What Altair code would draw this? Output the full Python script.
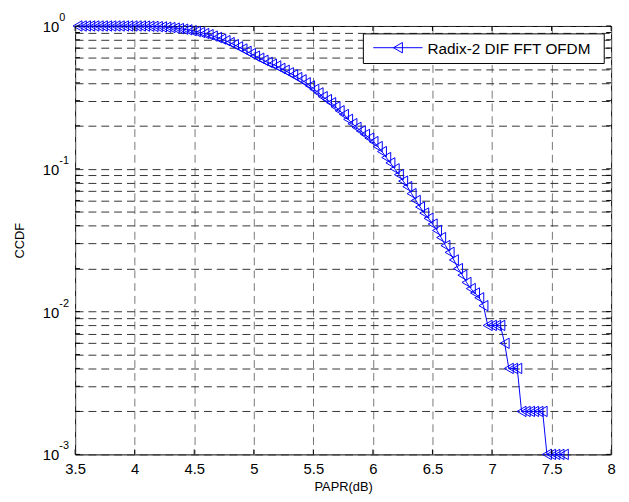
import altair as alt
import pandas as pd

# ---- data ----
papr_db = [3.520, 3.556, 3.591, 3.627, 3.662, 3.698, 3.733, 3.769, 3.804, 3.840,
           3.875, 3.911, 3.946, 3.982, 4.017, 4.053, 4.088, 4.124, 4.159, 4.195,
           4.230, 4.266, 4.301, 4.337, 4.372, 4.408, 4.443, 4.479, 4.514, 4.550,
           4.585, 4.621, 4.656, 4.692, 4.727, 4.763, 4.798, 4.834, 4.869, 4.905,
           4.940, 4.976, 5.011, 5.047, 5.082, 5.118, 5.153, 5.189, 5.224, 5.260,
           5.295, 5.331, 5.366, 5.402, 5.437, 5.473, 5.508, 5.544, 5.579, 5.615,
           5.650, 5.686, 5.721, 5.757, 5.792, 5.828, 5.863, 5.899, 5.934, 5.970,
           6.005, 6.041, 6.076, 6.112, 6.147, 6.183, 6.218, 6.254, 6.289, 6.325,
           6.360, 6.396, 6.431, 6.467, 6.502, 6.538, 6.573, 6.609, 6.644, 6.680,
           6.715, 6.751, 6.786, 6.822, 6.857, 6.893, 6.928, 6.964, 6.999, 7.035,
           7.070, 7.106, 7.141, 7.177, 7.212, 7.248, 7.283, 7.319, 7.354, 7.390,
           7.425, 7.461, 7.496, 7.532, 7.567, 7.603]

ccdf = [1.0, 1.0, 1.0, 1.0, 1.0, 1.0, 1.0, 1.0, 1.0, 1.0,
        1.0, 1.0, 1.0, 1.0, 1.0, 1.0, 0.998, 0.996, 0.993, 0.99,
        0.985, 0.98, 0.975, 0.967, 0.96, 0.95, 0.94, 0.927, 0.915, 0.90,
        0.885, 0.87, 0.85, 0.83, 0.81, 0.79, 0.765, 0.74, 0.715, 0.69,
        0.665, 0.64, 0.615, 0.595, 0.575, 0.555, 0.54, 0.525, 0.505, 0.49,
        0.47, 0.455, 0.435, 0.42, 0.40, 0.38, 0.36, 0.34, 0.32, 0.305,
        0.29, 0.272, 0.255, 0.24, 0.222, 0.207, 0.195, 0.184, 0.174, 0.164,
        0.155, 0.143, 0.132, 0.12, 0.11, 0.10, 0.091, 0.082, 0.075, 0.067,
        0.06, 0.054, 0.049, 0.045, 0.041, 0.037, 0.033, 0.029, 0.026, 0.023,
        0.020, 0.018, 0.016, 0.0145, 0.0135, 0.0125, 0.011, 0.008, 0.008, 0.008,
        0.008, 0.006, 0.004, 0.004, 0.004, 0.002, 0.002, 0.002, 0.002, 0.002,
        0.002, 0.001, 0.001, 0.001, 0.001, 0.001]

x_tick_values = [3.5, 4.0, 4.5, 5.0, 5.5, 6.0, 6.5, 7.0, 7.5, 8.0]
y_grid_values = [0.001, 0.002, 0.003, 0.004, 0.005, 0.006, 0.007, 0.008, 0.009,
                 0.01, 0.02, 0.03, 0.04, 0.05, 0.06, 0.07, 0.08, 0.09,
                 0.1, 0.2, 0.3, 0.4, 0.5, 0.6, 0.7, 0.8, 0.9, 1.0]
y_decades = [1.0, 0.1, 0.01, 0.001]
y_exponents = ["0", "-1", "-2", "-3"]
series_name = "Radix-2 DIF FFT OFDM"

# ---- layout (plot area in px) ----
W, H = 543, 434
FONT = "Liberation Sans"
BLUE = "#0000ff"
MSIZE = 110

df = pd.DataFrame({"x": papr_db, "y": ccdf})
xt = pd.DataFrame({"x": x_tick_values})
yt = pd.DataFrame({"y": y_grid_values})
yd = pd.DataFrame({"y": y_decades, "e": y_exponents})
leg = pd.DataFrame({"label": [series_name]})

xs = alt.Scale(domain=[3.5, 8], nice=False, zero=False)
ys = alt.Scale(type="log", domain=[0.001, 1], nice=False)

x_axis = alt.Axis(values=x_tick_values, format="~g", grid=True, gridDash=[8, 5],
                  gridColor="#777777", gridWidth=1, ticks=False, tickSize=0,
                  domain=False, labelFont=FONT, labelFontSize=15, labelColor="black",
                  labelPadding=7, labelFlush=False, labelOverlap=False,
                  title="PAPR(dB)", titleFont=FONT, titleFontSize=13,
                  titleFontWeight="normal", titleColor="black", titleY=33,
                  titleBaseline="middle")
y_axis = alt.Axis(values=y_grid_values, grid=True, gridDash=[8, 5],
                  gridColor="#333333", gridWidth=1, ticks=False, tickSize=0,
                  domain=False, labels=False, title="CCDF", titleFont=FONT,
                  titleFontSize=13, titleFontWeight="normal", titleColor="black",
                  titleX=-56, titleY=H / 2, titleAngle=270, titleBaseline="middle",
                  titleAlign="center")


def X(field="x:Q"):
    return alt.X(field, scale=xs, axis=x_axis)


def Y(field="y:Q"):
    return alt.Y(field, scale=ys, axis=y_axis)


line = alt.Chart(df).mark_line(color=BLUE, strokeWidth=1).encode(x=X(), y=Y())
pts = alt.Chart(df).mark_point(shape="triangle-left", filled=False, size=MSIZE,
                               color=BLUE, strokeWidth=1, opacity=1).encode(x=X(), y=Y())

# inward ticks on all four sides
tick_b = alt.Chart(xt).mark_rule(color="black", strokeWidth=1).encode(
    x=X(), y=alt.value(H), y2=alt.value(H - 5))
tick_t = alt.Chart(xt).mark_rule(color="black", strokeWidth=1).encode(
    x=X(), y=alt.value(0), y2=alt.value(5))
tick_l = alt.Chart(yt).mark_rule(color="black", strokeWidth=1).encode(
    y=Y(), x=alt.value(0), x2=alt.value(5))
tick_r = alt.Chart(yt).mark_rule(color="black", strokeWidth=1).encode(
    y=Y(), x=alt.value(W), x2=alt.value(W - 5))

# y tick labels 10^n
ten = alt.Chart(yd).mark_text(text="10", font=FONT, fontSize=15, align="right",
                              baseline="middle", dy=1, color="black").encode(
    y=Y(), x=alt.value(-16))
expo = alt.Chart(yd).mark_text(font=FONT, fontSize=11, align="left",
                               baseline="alphabetic", dy=-5, color="black").encode(
    y=Y(), x=alt.value(-16), text="e:N")

# legend box
leg_box = alt.Chart(leg).mark_rect(fill="white", stroke="black", strokeWidth=1).encode(
    x=alt.value(292), x2=alt.value(536), y=alt.value(8), y2=alt.value(38))
leg_line = alt.Chart(leg).mark_rule(color=BLUE, strokeWidth=1).encode(
    x=alt.value(302), x2=alt.value(352), y=alt.value(22))
leg_pt = alt.Chart(leg).mark_point(shape="triangle-left", filled=False, size=MSIZE,
                                   color=BLUE, strokeWidth=1, opacity=1).encode(
    x=alt.value(327), y=alt.value(22))
leg_txt = alt.Chart(leg).mark_text(font=FONT, fontSize=15.5, align="left",
                                   baseline="middle", color="black").encode(
    x=alt.value(357), y=alt.value(23), text="label:N")

chart = alt.layer(
    line, pts, tick_b, tick_t, tick_l, tick_r, ten, expo,
    leg_box, leg_line, leg_pt, leg_txt
).properties(
    width=W, height=H,
    autosize=alt.AutoSizeParams(type="none"),
    padding={"left": 68, "top": 15, "right": 10, "bottom": 45},
    background="white",
).configure_view(stroke="black", strokeWidth=1)

chart.save("out.html", embed_options={"renderer": "svg", "actions": False})
